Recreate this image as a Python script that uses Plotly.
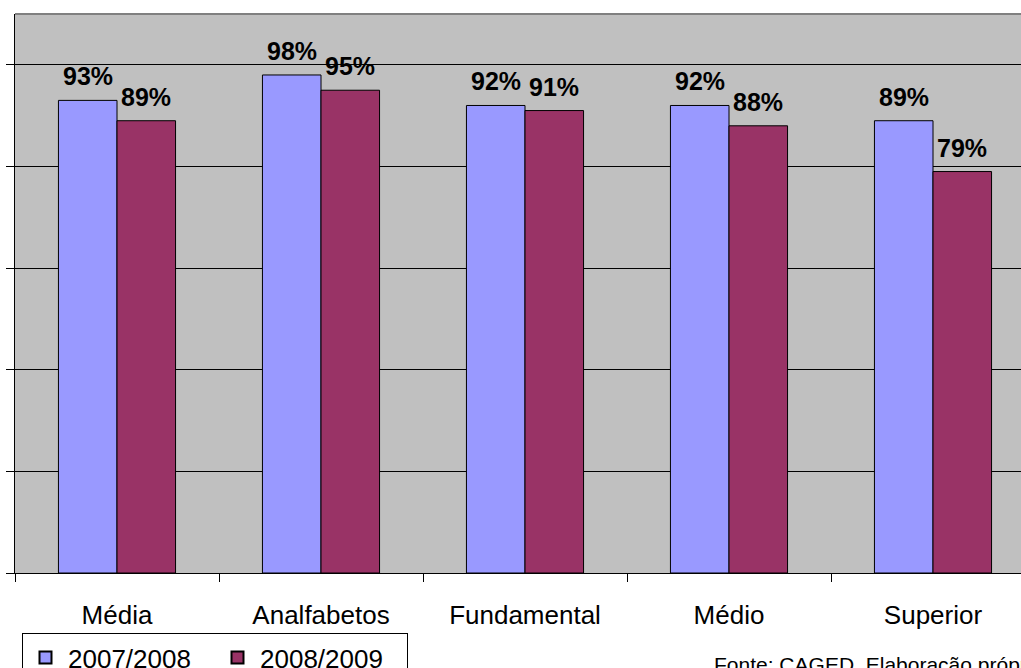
import plotly.graph_objects as go

# Taxa por nível de escolaridade
categorias = ["Média", "Analfabetos", "Fundamental", "Médio", "Superior"]
serie_2007_2008 = [93, 98, 92, 92, 89]
serie_2008_2009 = [89, 95, 91, 88, 79]
nomes_series = ["2007/2008", "2008/2009"]
cores = ["#9999FF", "#993366"]

FONTE = "Liberation Sans, Arial, sans-serif"

# Dimensões da área de plotagem (px)
L, T, B = 15, 14, 95
W_PLOT = 1021 - L
H_PLOT = 668 - T - B

fig = go.Figure()
for nome, valores, cor in zip(nomes_series, [serie_2007_2008, serie_2008_2009], cores):
    fig.add_trace(go.Bar(
        name=nome,
        x=categorias,
        y=valores,
        marker=dict(color=cor, line=dict(color="black", width=1)),
    ))

# Rótulos percentuais acima de cada barra
largura_px = 58.5
for i, valores in enumerate([serie_2007_2008, serie_2008_2009]):
    deslocamento = (-0.5 + i) * largura_px
    for cat, v in zip(categorias, valores):
        fig.add_annotation(
            x=cat, y=v, xref="x", yref="y",
            text=f"<b>{v}%</b>", showarrow=False,
            xanchor="center", yanchor="bottom",
            xshift=deslocamento, yshift=8,
            font=dict(family=FONTE, size=25, color="black"),
        )

fig.add_annotation(
    x=(712 - L) / W_PLOT, y=-(651 - (668 - B)) / H_PLOT,
    xref="paper", yref="paper",
    text="Fonte: CAGED. Elaboração própria",
    showarrow=False, xanchor="left", yanchor="top",
    font=dict(family=FONTE, size=21, color="black"),
)

# Borda superior da área do gráfico
fig.add_shape(type="line", xref="paper", yref="paper", x0=0, x1=1, y0=1, y1=1,
              line=dict(color="#808080", width=2))

fig.update_layout(
    width=1021, height=668,
    margin=dict(l=L, r=0, t=T, b=B, autoexpand=False),
    paper_bgcolor="white",
    plot_bgcolor="#C0C0C0",
    barmode="group",
    bargap=0.426,
    bargroupgap=0,
    font=dict(family=FONTE, color="black"),
    showlegend=True,
    legend=dict(
        orientation="h",
        x=(22 - L) / W_PLOT, y=-(633 - (668 - B)) / H_PLOT,
        xanchor="left", yanchor="top",
        bordercolor="black", borderwidth=1, bgcolor="white",
        font=dict(family=FONTE, size=26, color="black"),
        entrywidth=142,
        itemwidth=35,
        itemsizing="constant",
    ),
    xaxis=dict(
        range=[-0.5, 4.5 - 14 / 204],
        showline=True, linecolor="black", linewidth=1,
        ticks="outside", ticklen=8, tickcolor="black", tickson="boundaries",
        tickfont=dict(family=FONTE, size=26, color="black"),
        ticklabelstandoff=19,
        showgrid=False, automargin=False,
    ),
    yaxis=dict(
        range=[0, 110], dtick=20,
        showline=True, linecolor="black", linewidth=1,
        ticks="outside", ticklen=8, tickcolor="black",
        showticklabels=False,
        showgrid=True, gridcolor="black", gridwidth=1,
        zeroline=False, automargin=False,
    ),
)

fig.write_html("out.html")
